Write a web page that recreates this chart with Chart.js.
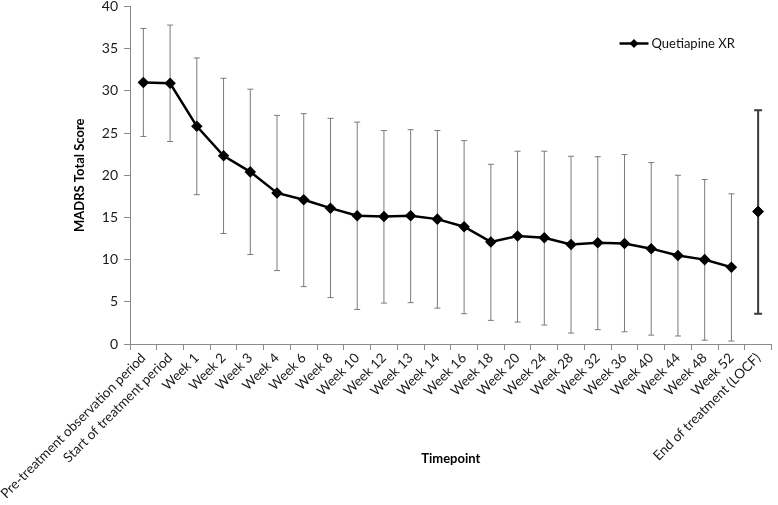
<!DOCTYPE html>
<html>
<head>
<meta charset="utf-8">
<script src="https://cdn.jsdelivr.net/npm/chart.js@4"></script>
<style>
  html, body { margin: 0; padding: 0; background: #fff; }
  #wrap { width: 778px; height: 505px; }
</style>
</head>
<body>
<div id="wrap"><canvas id="chart"></canvas></div>
<script>
const timepoints = [
  "Pre-treatment observation period", "Start of treatment period",
  "Week 1", "Week 2", "Week 3", "Week 4", "Week 6", "Week 8", "Week 10",
  "Week 12", "Week 13", "Week 14", "Week 16", "Week 18", "Week 20", "Week 24",
  "Week 28", "Week 32", "Week 36", "Week 40", "Week 44", "Week 48", "Week 52",
  "End of treatment (LOCF)"
];

// mean MADRS per visit (last one = LOCF, drawn on its own)
const meanScore = [31.0, 30.9, 25.8, 22.3, 20.4, 17.9, 17.1, 16.1, 15.2, 15.1,
  15.2, 14.8, 13.9, 12.1, 12.8, 12.6, 11.8, 12.0, 11.9, 11.3, 10.5, 10.0, 9.1];
const locfScore = 15.7;

// error bar ends (mean +/- SD)
const upperBar = [37.4, 37.8, 33.9, 31.5, 30.2, 27.1, 27.3, 26.75, 26.3, 25.3,
  25.4, 25.3, 24.1, 21.3, 22.85, 22.85, 22.25, 22.2, 22.45, 21.5, 20.0, 19.5, 17.8, 27.7];
const lowerBar = [24.6, 24.0, 17.7, 13.1, 10.6, 8.7, 6.8, 5.5, 4.1, 4.85,
  4.9, 4.25, 3.6, 2.8, 2.6, 2.25, 1.3, 1.7, 1.45, 1.05, 0.95, 0.45, 0.35, 3.6];

const yTicks = [0, 5, 10, 15, 20, 25, 30, 35, 40];
const seriesName = "Quetiapine XR";

const FONT = "Lato, 'Open Sans', sans-serif";

const errorBars = {
  id: "errorBars",
  beforeDatasetsDraw(chart) {
    const x = chart.scales.x, y = chart.scales.y;
    const ctx = chart.ctx;
    ctx.save();
    upperBar.forEach((top, i) => {
      const last = i === upperBar.length - 1;
      const px = x.getPixelForValue(i);
      const y1 = y.getPixelForValue(top);
      const y2 = y.getPixelForValue(lowerBar[i]);
      const cap = last ? 4 : 3;
      ctx.strokeStyle = last ? "#3a3a3a" : "#7a7a7a";
      ctx.lineWidth = last ? 2 : 1;
      ctx.beginPath();
      ctx.moveTo(px, y1); ctx.lineTo(px, y2);
      ctx.moveTo(px - cap, y1); ctx.lineTo(px + cap, y1);
      ctx.moveTo(px - cap, y2); ctx.lineTo(px + cap, y2);
      ctx.stroke();
    });
    ctx.restore();
  }
};

// legend inside the plot, top right: line + diamond + name
const insideLegend = {
  id: "insideLegend",
  afterDraw(chart) {
    const { ctx, chartArea } = chart;
    const lx = chartArea.right - 152, ly = chartArea.top + 37;
    ctx.save();
    ctx.strokeStyle = "#000";
    ctx.lineWidth = 2.5;
    ctx.beginPath(); ctx.moveTo(lx, ly); ctx.lineTo(lx + 29, ly); ctx.stroke();
    ctx.fillStyle = "#000";
    ctx.beginPath();
    ctx.moveTo(lx + 14.5, ly - 4.5); ctx.lineTo(lx + 19, ly);
    ctx.lineTo(lx + 14.5, ly + 4.5); ctx.lineTo(lx + 10, ly);
    ctx.closePath(); ctx.fill();
    ctx.fillStyle = "#111";
    ctx.font = "13px " + FONT;
    ctx.textBaseline = "middle";
    ctx.fillText(seriesName, lx + 32, ly);
    ctx.restore();
  }
};

const lineData = meanScore.concat([null]);
const locfData = timepoints.map((_, i) => i === timepoints.length - 1 ? locfScore : null);

new Chart(document.getElementById("chart"), {
  type: "line",
  data: {
    labels: timepoints,
    datasets: [{
      label: seriesName,
      data: lineData,
      borderColor: "#000",
      backgroundColor: "#000",
      borderWidth: 2.5,
      pointStyle: "rectRot",
      pointRadius: 4,
      pointHoverRadius: 4,
      tension: 0,
      spanGaps: false
    }, {
      label: "LOCF",
      data: locfData,
      borderColor: "#000",
      backgroundColor: "#000",
      showLine: false,
      pointStyle: "rectRot",
      pointRadius: 5.5,
      pointHoverRadius: 5.5
    }]
  },
  options: {
    responsive: true,
    maintainAspectRatio: false,
    animation: false,
    layout: { padding: { top: 5, right: 0, bottom: 0, left: 0 } },
    plugins: {
      tooltip: { enabled: false },
      legend: { display: false }
    },
    scales: {
      x: {
        offset: true,
        grid: { display: true, drawOnChartArea: false, tickLength: 6, color: "#8a8a8a", offset: true },
        border: { color: "#8a8a8a" },
        ticks: {
          autoSkip: false,
          maxRotation: 45,
          minRotation: 45,
          padding: 0,
          color: "#1a1a1a",
          font: { family: FONT, size: 13.5 }
        },
        title: {
          display: true,
          text: "Timepoint",
          color: "#000",
          font: { family: FONT, size: 13, weight: "bold" },
          padding: { top: 0, bottom: 38 }
        },
        afterFit: s => { s.height = 161; }
      },
      y: {
        min: 0,
        max: 40,
        afterBuildTicks: s => { s.ticks = yTicks.map(v => ({ value: v })); },
        grid: { display: true, drawOnChartArea: false, tickLength: 6, color: "#8a8a8a" },
        border: { color: "#8a8a8a" },
        ticks: {
          padding: 6,
          color: "#1a1a1a",
          font: { family: FONT, size: 14 }
        },
        title: {
          display: true,
          text: "MADRS Total Score",
          color: "#000",
          font: { family: FONT, size: 13, weight: "bold" },
          padding: { top: 72, bottom: 0 }
        },
        afterFit: s => { s.width = 130; s.paddingTop = 0; s.paddingBottom = 0; }
      }
    }
  },
  plugins: [errorBars, insideLegend]
});
</script>
</body>
</html>
